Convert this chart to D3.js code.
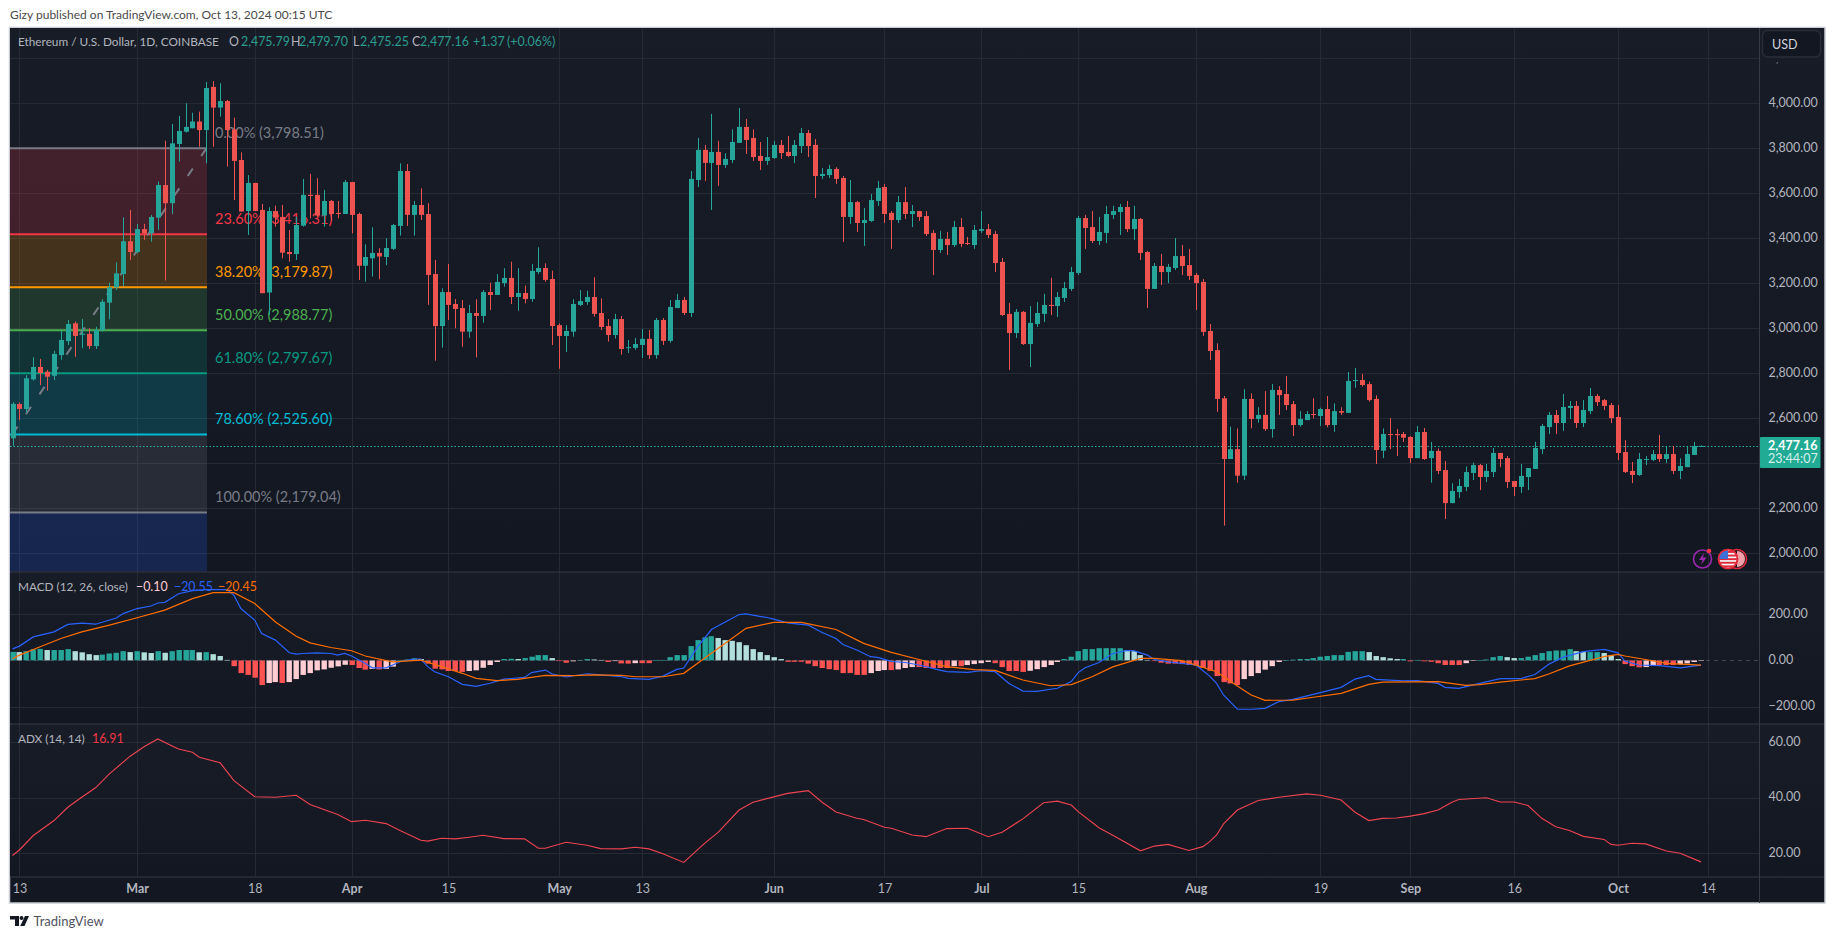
<!DOCTYPE html>
<html>
<head>
<meta charset="utf-8">
<script src="https://cdn.jsdelivr.net/npm/d3@7"></script>
<style>
  body { margin: 0; background: #fff; }
  svg { display: block; font-family: Lato, "Open Sans", sans-serif; }
  .domain { display: none; }
  .axis text { fill: #b2b5be; font-size: 12.5px; font-family: Lato, sans-serif; }
</style>
</head>
<body>
<div id="chart"></div>
<script>
// daily candles, index 0 = Feb 12 2024, last = Oct 13 2024
const opens = [
  2511,2663,2641,2773,2828,2807,2789,2881,2943,3022,
  2971,2975,2921,2992,3114,3182,3241,3387,3339,3441,
  3422,3492,3637,3556,3819,3874,3889,3919,3881,4073,
  3981,4010,3884,3748,3521,3646,3526,3159,3521,3495,
  3339,3330,3456,3593,3593,3501,3566,3513,3508,3650,
  3508,3278,3311,3335,3317,3353,3455,3699,3504,3548,
  3508,3241,3010,3161,3108,3090,2985,3068,3055,3161,
  3148,3201,3224,3139,3157,3130,3250,3268,3219,3014,
  2966,2985,3104,3117,3139,3068,3010,2970,3041,2914,
  2913,2926,2953,2881,3037,2944,3090,3126,3068,3659,
  3793,3735,3784,3726,3748,3824,3895,3846,3766,3744,
  3757,3815,3784,3766,3810,3868,3815,3677,3681,3708,
  3668,3495,3561,3468,3477,3566,3628,3513,3481,3561,
  3508,3521,3499,3424,3348,3397,3370,3450,3379,3370,
  3433,3441,3419,3295,3064,2979,3073,2930,3019,3064,
  3104,3099,3135,3175,3246,3490,3450,3388,3424,3504,
  3517,3539,3441,3486,3339,3175,3277,3250,3268,3321,
  3281,3237,3206,2988,2903,2689,2419,2463,2345,2686,
  2597,2615,2552,2726,2708,2663,2570,2592,2619,2610,
  2641,2570,2632,2624,2766,2770,2752,2686,2456,2530,
  2530,2530,2517,2423,2539,2423,2455,2370,2223,2272,
  2295,2357,2392,2339,2361,2446,2423,2321,2295,2339,
  2375,2463,2561,2615,2579,2646,2655,2579,2632,2699,
  2681,2659,2606,2450,2366,2348,2415,2415,2441,2419,
  2441,2366,2383,2437,2475.79
];
const highs = [
  2672,2670,2792,2871,2864,2815,2900,2992,3037,3030,
  3041,3000,3007,3129,3203,3293,3493,3526,3464,3464,
  3504,3652,3834,3908,3944,4000,3958,3963,4095,4099,
  4089,4015,3936,3782,3681,3646,3553,3538,3545,3548,
  3437,3496,3664,3686,3667,3615,3570,3566,3659,3650,
  3514,3373,3449,3356,3400,3464,3733,3730,3566,3622,
  3556,3304,3178,3286,3130,3126,3104,3129,3170,3203,
  3241,3267,3296,3267,3190,3286,3360,3289,3256,3022,
  3014,3129,3170,3167,3227,3133,3041,3064,3055,2948,
  2957,2997,2993,3046,3046,3126,3153,3139,3699,3846,
  3815,3953,3833,3778,3884,3979,3930,3884,3828,3850,
  3833,3837,3855,3837,3890,3881,3841,3713,3726,3716,
  3677,3659,3566,3535,3597,3655,3641,3521,3588,3628,
  3548,3521,3521,3437,3433,3428,3477,3490,3406,3459,
  3521,3464,3433,3313,3113,3086,3077,3099,3117,3153,
  3224,3161,3206,3273,3499,3504,3521,3495,3544,3544,
  3553,3566,3544,3490,3344,3290,3330,3286,3401,3370,
  3353,3246,3219,3019,2933,2699,2563,2555,2729,2711,
  2649,2721,2752,2743,2788,2677,2632,2632,2689,2647,
  2699,2666,2649,2806,2824,2797,2763,2702,2555,2601,
  2552,2539,2521,2566,2557,2495,2466,2410,2311,2330,
  2386,2403,2397,2397,2468,2446,2432,2321,2397,2379,
  2496,2575,2628,2637,2708,2677,2677,2681,2735,2708,
  2686,2668,2659,2503,2406,2446,2432,2459,2526,2474,
  2477,2422,2472,2495,2479.70
];
const lows = [
  2478,2592,2625,2767,2748,2723,2770,2860,2926,2874,
  2911,2908,2908,2985,3040,3170,3188,3304,3333,3393,
  3385,3437,3212,3507,3741,3870,3889,3807,3733,3807,
  3941,3719,3570,3519,3415,3521,3156,3059,3452,3311,
  3296,3304,3452,3489,3496,3452,3478,3489,3508,3422,
  3215,3207,3230,3218,3281,3348,3412,3455,3412,3481,
  3104,2856,2914,3037,3000,2918,2958,2871,3025,3081,
  3148,3185,3108,3078,3111,3118,3241,3207,2926,2820,
  2895,2963,3099,3104,3052,2993,2941,2954,2883,2890,
  2905,2868,2864,2865,2926,2936,3090,3059,3050,3628,
  3655,3526,3633,3713,3735,3824,3775,3744,3704,3726,
  3753,3753,3761,3735,3779,3761,3579,3664,3668,3642,
  3384,3464,3428,3366,3473,3544,3468,3353,3468,3486,
  3450,3477,3410,3237,3335,3326,3361,3361,3370,3353,
  3424,3401,3250,3055,2815,2957,2926,2828,3006,3028,
  3059,3050,3117,3166,3237,3353,3379,3370,3379,3486,
  3415,3428,3393,3304,3090,3175,3193,3201,3259,3237,
  3215,3081,2966,2859,2629,2123,2419,2314,2326,2555,
  2581,2544,2514,2615,2637,2521,2563,2592,2600,2566,
  2560,2540,2615,2624,2736,2741,2674,2397,2423,2463,
  2432,2495,2401,2423,2415,2314,2352,2152,2223,2246,
  2277,2326,2281,2317,2339,2383,2290,2255,2268,2281,
  2375,2441,2530,2530,2544,2597,2557,2561,2619,2655,
  2637,2579,2415,2357,2312,2344,2392,2410,2406,2401,
  2352,2330,2383,2437,2475.25
];
const closes = [
  2664,2642,2778,2828,2801,2785,2886,2948,3019,2966,
  2976,2921,2992,3118,3182,3244,3387,3339,3441,3422,
  3495,3637,3556,3822,3877,3895,3919,3881,4068,3981,
  4010,3881,3744,3519,3646,3521,3156,3521,3492,3336,
  3330,3459,3593,3588,3501,3566,3508,3508,3650,3504,
  3278,3317,3335,3319,3357,3459,3699,3504,3548,3504,
  3237,3010,3161,3104,3086,2985,3068,3055,3161,3148,
  3206,3224,3139,3157,3130,3255,3268,3215,3010,2966,
  2988,3108,3121,3139,3064,3006,2970,3041,2908,2916,
  2930,2953,2881,3037,2944,3095,3126,3068,3664,3793,
  3735,3784,3726,3753,3828,3895,3837,3761,3744,3761,
  3815,3779,3766,3815,3868,3810,3677,3686,3708,3664,
  3495,3561,3468,3481,3570,3624,3508,3481,3561,3508,
  3521,3495,3419,3348,3397,3370,3450,3375,3375,3437,
  3441,3415,3290,3059,2979,3073,2930,3024,3068,3104,
  3099,3139,3179,3250,3490,3446,3388,3428,3508,3521,
  3539,3441,3486,3335,3175,3277,3250,3273,3321,3277,
  3233,3201,2984,2899,2686,2419,2463,2345,2686,2597,
  2615,2552,2726,2703,2659,2570,2597,2619,2615,2641,
  2570,2632,2625,2766,2770,2748,2681,2459,2530,2526,
  2525,2514,2423,2539,2419,2455,2366,2223,2277,2299,
  2361,2392,2339,2366,2446,2419,2317,2295,2344,2379,
  2468,2566,2615,2579,2650,2655,2579,2637,2699,2672,
  2655,2601,2446,2361,2348,2419,2419,2441,2419,2441,
  2366,2388,2441,2477,2477.16
];

const histValues = [
  37,36,40,48,50,45,45,45,49,40,
  35,27,23,25,30,33,40,36,40,35,
  32,40,33,40,45,45,45,35,36,27,
  19,2,-25,-55,-63,-75,-107,-98,-94,-98,
  -94,-81,-63,-55,-43,-39,-32,-26,-19,-20,
  -33,-40,-37,-39,-37,-27,2,4,9,6,
  -14,-36,-39,-46,-46,-50,-46,-43,-32,-20,
  -7,6,7,6,10,16,23,23,10,-3,
  -10,-4,2,6,4,2,-7,-3,-13,-14,
  -12,-12,-12,2,2,14,23,23,62,88,
  100,105,97,88,85,79,66,49,36,23,
  14,6,-6,-6,-6,-14,-25,-33,-38,-42,
  -55,-55,-63,-63,-55,-46,-42,-42,-39,-33,
  -29,-29,-33,-33,-33,-33,-25,-25,-20,-16,
  -12,-7,-12,-29,-46,-46,-50,-45,-38,-29,
  -20,-7,6,16,40,49,49,53,53,53,
  53,45,40,23,2,-3,-10,-14,-14,-16,
  -20,-23,-33,-45,-68,-94,-100,-107,-81,-68,
  -55,-40,-25,-7,1,3,6,6,10,16,
  19,23,23,37,40,40,36,19,14,9,
  6,6,-4,1,-4,-6,-12,-20,-20,-20,
  -12,-1,1,4,14,19,14,10,10,16,
  23,32,40,43,43,49,40,36,36,36,
  32,23,6,-16,-25,-30,-29,-20,-20,-20,
  -20,-17,-13,-7,-0.1
];

const macdDays = [0,1,3,6,8,10,12,15,16,18,20,21,22,24,26,28,31,32,33,35,36,38,40,41,42,44,46,47,48,49,51,52,54,56,58,59,60,61,63,65,67,69,71,74,75,77,78,80,83,85,88,89,92,94,96,97,99,101,103,105,106,109,110,112,115,117,119,120,122,124,125,127,129,131,134,135,138,140,142,144,146,148,151,153,154,155,157,159,161,162,164,165,167,171,173,174,175,177,179,181,183,185,189,192,194,196,197,201,203,206,207,209,212,215,218,220,222,224,227,230,232,233,235,238,241,244];
const macdValues = [50,62,102,124,156,162,157,184,203,225,236,249,252,289,303,307,307,282,225,175,117,88,33,27,30,33,30,23,30,19,-13,-32,-32,-6,6,6,-27,-49,-71,-104,-113,-99,-81,-74,-53,-42,-59,-72,-58,-63,-71,-78,-82,-68,-39,-33,59,134,167,199,202,186,179,163,153,121,95,69,45,16,13,-4,-9,-20,-42,-49,-52,-45,-49,-100,-133,-134,-121,-92,-53,-32,-9,30,42,42,23,4,-6,-20,-68,-100,-150,-212,-212,-208,-179,-169,-140,-117,-81,-66,-82,-89,-88,-100,-117,-121,-100,-79,-79,-61,-17,13,38,48,33,-3,-20,-23,-32,-20.55];
const signalDays = [0,1,4,7,10,14,18,22,26,29,32,35,38,41,43,46,49,51,54,55,59,62,65,67,70,73,77,81,84,88,90,94,97,100,103,106,110,114,119,123,127,131,135,139,142,146,150,153,156,159,163,165,169,174,177,179,181,185,188,192,196,198,206,210,212,215,220,222,225,230,232,233,236,239,244];
const signalValues = [7,23,59,95,124,153,185,218,268,294,294,247,167,105,76,56,42,19,-1,-6,1,-27,-56,-78,-88,-82,-65,-66,-63,-65,-71,-71,-56,9,74,139,165,165,134,74,35,4,-27,-40,-43,-85,-110,-105,-71,-28,9,9,-1,-49,-111,-150,-173,-172,-160,-143,-104,-94,-92,-108,-105,-94,-79,-59,-24,16,26,19,4,-13,-20.45];
const adxDays = [0,1,3,4,6,8,10,12,14,17,19,21,23,24,26,27,30,32,35,38,41,43,47,49,51,54,56,59,60,62,64,66,68,71,74,76,77,80,83,85,88,90,92,94,97,100,102,105,107,112,115,117,119,122,123,126,127,130,132,135,138,141,143,146,149,151,153,154,157,159,163,165,167,170,172,173,174,175,177,180,183,187,189,192,194,196,198,200,202,204,206,208,209,213,215,217,219,221,223,225,227,230,231,232,234,236,239,241,244];
const adxValues = [19.2,21.2,26.4,28.2,31.8,36.6,40.2,43.6,48.6,55,58.4,61.2,58.8,57.6,56.4,54.6,52.6,46.2,40.4,40.2,40.9,37.6,34,31.4,31.9,30.7,28.2,24.7,24.4,25.4,25.2,25.8,26.5,25.3,25.2,21.8,21.8,24,22.9,21.7,21.6,22.2,21.6,19.8,16.7,23.6,27.6,35.6,38.4,41.6,42.6,38.4,34.9,32.6,32.2,29.4,29,26.6,26,28.9,29,26,27.6,32.4,38.2,38.8,37.4,35,29.2,26.5,20.9,22.6,23.2,21,22.4,24.2,26.6,30.6,35.6,39,40.2,41.4,40.9,39.2,34.8,31.8,32.6,32.7,33.4,34.3,35.6,38.4,39.4,40,38.5,38.5,37.2,32.6,29.6,28.2,26.1,25,23.2,22.9,23.6,23.4,20.8,20,16.91];

// bottom axis
const dateTickDays = [1,18,35,49,63,79,91,110,126,140,154,171,189,202,217,232,245];
const dateTickLabels = ["13","Mar","18","Apr","15","May","13","Jun","17","Jul","15","Aug","19","Sep","16","Oct","14"];
const monthLabels = ["Mar","Apr","May","Jun","Jul","Aug","Sep","Oct"];

const priceTicks = [2000,2200,2400,2600,2800,3000,3200,3400,3600,3800,4000,4200];
const hiddenPriceLabels = [2400]; // under the last price tag
const macdTicks = [-200,0,200];
const adxTicks = [20,40,60];

// fibonacci retracement
const fibLevels = [3798.51,3416.31,3179.87,2988.77,2797.67,2525.60,2179.04];
const fibLabels = ["0.00%","23.60%","38.20%","50.00%","61.80%","78.60%","100.00%"];
const fibColors = ["#787b86","#f23645","#ff9800","#4caf50","#089981","#00bcd4","#787b86"];
const fibFills = ["#f23645","#ff9800","#4caf50","#089981","#00bcd4","#787b86","#2962ff"];

const lastPrice = 2477.16;

const W = 1835, H = 939;
const left = 10, plotRight = 1759.5, right = 1824;
const mainTop = 28, mainBottom = 571.5, macdTop = 572.5, macdBottom = 723.5, adxTop = 724.5, adxBottom = 876.5, chartBottom = 903;

const x = d3.scaleLinear().domain([0, 244]).range([12.5, 1701]);
const yPrice = d3.scaleLinear().domain([2000, 4000]).range([553.3, 103.3]);
const yMacd = d3.scaleLinear().domain([-200, 200]).range([706.5, 614.3]);
const yAdx = d3.scaleLinear().domain([20, 60]).range([853.3, 742.3]);

const svg = d3.select("#chart").append("svg").attr("width", W).attr("height", H);
const defs = svg.append("defs");
const grad = defs.append("linearGradient").attr("id", "paneBg").attr("x1", 0).attr("x2", 0).attr("y1", 0).attr("y2", 1);
grad.append("stop").attr("offset", "0%").attr("stop-color", "#181c27");
grad.append("stop").attr("offset", "100%").attr("stop-color", "#131722");
defs.append("clipPath").attr("id", "plotClip").append("rect")
  .attr("x", left).attr("y", mainTop).attr("width", plotRight - left).attr("height", mainBottom - mainTop);
defs.append("clipPath").attr("id", "macdClip").append("rect")
  .attr("x", left).attr("y", macdTop).attr("width", plotRight - left).attr("height", macdBottom - macdTop);
defs.append("clipPath").attr("id", "flagClip").append("circle").attr("cx", 1728).attr("cy", 559).attr("r", 9);

// header and footer on the white page
svg.append("text").text("Gizy published on TradingView.com, Oct 13, 2024 00:15 UTC")
  .attr("x", 10).attr("y", 19).attr("fill", "#4a4a4a").style("font-size", "12px");

const logo = svg.append("g").attr("fill", "#131722");
logo.append("path").attr("d", "M10 916h9v10h-4v-6.5h-5z");
logo.append("circle").attr("cx", 21.5).attr("cy", 918).attr("r", 2);
logo.append("path").attr("d", "M25 916h4l-4.5 10h-4.3z");
svg.append("text").text("TradingView").attr("x", 33.5).attr("y", 926).attr("fill", "#50535e").style("font-size", "13px");

// panes
svg.append("rect").attr("x", 9.5).attr("y", 27.5).attr("width", right - 9.5 + 1).attr("height", chartBottom - 27.5)
  .attr("fill", "#131722").attr("stroke", "#c9ccd4").attr("stroke-width", 1.5);
[[mainTop, mainBottom], [macdTop, macdBottom], [adxTop, adxBottom]].forEach(p => {
  svg.append("rect").attr("x", left).attr("y", p[0]).attr("width", right - left).attr("height", p[1] - p[0]).attr("fill", "url(#paneBg)");
});

// grid
const gridColor = "#262a35";
const grid = svg.append("g").attr("stroke", gridColor).attr("stroke-width", 1);
grid.selectAll(".v").data(dateTickDays).enter().append("line")
  .attr("x1", d => Math.round(x(d)) + 0.5).attr("x2", d => Math.round(x(d)) + 0.5)
  .attr("y1", mainTop).attr("y2", adxBottom);
function hGrid(ticks, scale) {
  grid.append("g").selectAll("line").data(ticks).enter().append("line")
    .attr("x1", left).attr("x2", plotRight)
    .attr("y1", d => Math.round(scale(d)) + 0.5).attr("y2", d => Math.round(scale(d)) + 0.5);
}
hGrid(priceTicks, yPrice);
hGrid(macdTicks.filter(d => d !== 0), yMacd);
hGrid(adxTicks, yAdx);

// separators
const sep = svg.append("g").attr("stroke", "#363a45");
[mainBottom, macdBottom, adxBottom].forEach(y => {
  sep.append("line").attr("x1", left).attr("x2", right).attr("y1", y + 0.5).attr("y2", y + 0.5);
});
sep.append("line").attr("x1", plotRight).attr("x2", plotRight).attr("y1", mainTop).attr("y2", chartBottom);

// fibonacci zones
const fibRight = 207;
const fib = svg.append("g").attr("clip-path", "url(#plotClip)");
fibLevels.forEach((lvl, i) => {
  const y0 = yPrice(lvl);
  const y1 = i < fibLevels.length - 1 ? yPrice(fibLevels[i + 1]) : mainBottom;
  fib.append("rect").attr("x", left).attr("y", y0).attr("width", fibRight - left).attr("height", y1 - y0)
    .attr("fill", fibFills[i]).attr("opacity", 0.2);
});
fib.selectAll(".fibline").data(fibLevels).enter().append("line")
  .attr("x1", left).attr("x2", fibRight)
  .attr("y1", d => yPrice(d) - 0.5).attr("y2", d => yPrice(d) - 0.5)
  .attr("stroke", (d, i) => fibColors[i]).attr("stroke-width", 2);
fib.selectAll(".fibtext").data(fibLevels).enter().append("text")
  .text((d, i) => fibLabels[i] + " (" + d3.format(",.2f")(d) + ")")
  .attr("x", 215).attr("y", d => yPrice(d) - 11)
  .attr("fill", (d, i) => fibColors[i]).style("font-size", "14.5px");
fib.append("line")
  .attr("x1", x(0)).attr("y1", yPrice(2530)).attr("x2", x(28)).attr("y2", yPrice(3798.51))
  .attr("stroke", "#787b86").attr("stroke-width", 2).attr("stroke-dasharray", "9 15");

// last price line
svg.append("line").attr("x1", left).attr("x2", plotRight)
  .attr("y1", Math.round(yPrice(lastPrice)) + 0.5).attr("y2", Math.round(yPrice(lastPrice)) + 0.5)
  .attr("stroke", "#2bb5a6").attr("stroke-dasharray", "1.5 2");

// candles
const up = "#26a69a", down = "#ef5350";
const candleData = d3.range(opens.length);
const candles = svg.append("g").attr("clip-path", "url(#plotClip)");
candles.selectAll(".wick").data(candleData).enter().append("line")
  .attr("x1", i => Math.round(x(i)) + 0.5).attr("x2", i => Math.round(x(i)) + 0.5)
  .attr("y1", i => yPrice(highs[i])).attr("y2", i => yPrice(lows[i]))
  .attr("stroke", i => closes[i] >= opens[i] ? up : down);
candles.selectAll(".body").data(candleData).enter().append("rect")
  .attr("x", i => Math.round(x(i)) - 2)
  .attr("width", 5)
  .attr("y", i => yPrice(Math.max(opens[i], closes[i])))
  .attr("height", i => Math.max(1, Math.abs(yPrice(opens[i]) - yPrice(closes[i]))))
  .attr("fill", i => closes[i] >= opens[i] ? up : down);

// MACD histogram + lines
function histColor(d, i) {
  const prev = i > 0 ? histValues[i - 1] : d;
  if (d >= 0) return d >= prev ? "#26a69a" : "#b2dfdb";
  return d <= prev ? "#ff5252" : "#ffcdd2";
}
const macdG = svg.append("g").attr("clip-path", "url(#macdClip)");
macdG.selectAll("rect").data(histValues).enter().append("rect")
  .attr("x", (d, i) => Math.round(x(i)) - 2.5)
  .attr("width", 5.4)
  .attr("y", d => Math.min(yMacd(d), yMacd(0)))
  .attr("height", d => Math.max(0.6, Math.abs(yMacd(d) - yMacd(0))))
  .attr("fill", histColor);
macdG.append("line").attr("x1", left).attr("x2", plotRight).attr("y1", yMacd(0)).attr("y2", yMacd(0))
  .attr("stroke", "#787b86").attr("stroke-opacity", 0.5).attr("stroke-dasharray", "4 4");

const lineFrom = (days, vals, scale) => d3.line().x(i => x(days[i])).y(i => scale(vals[i]))(d3.range(days.length));
macdG.append("path").attr("d", lineFrom(macdDays, macdValues, yMacd)).attr("fill", "none").attr("stroke", "#2962ff").attr("stroke-width", 1.2);
macdG.append("path").attr("d", lineFrom(signalDays, signalValues, yMacd)).attr("fill", "none").attr("stroke", "#ff6d00").attr("stroke-width", 1.2);

// ADX
svg.append("path").attr("d", lineFrom(adxDays, adxValues, yAdx)).attr("fill", "none").attr("stroke", "#ee4450").attr("stroke-width", 1.1);

// axes
function styleAxis(g) {
  g.attr("class", "axis");
  g.selectAll(".tick line").remove();
}
function styleValueAxis(g) {
  styleAxis(g);
  g.selectAll("text").attr("dy", "0.25em");
}
svg.append("g").attr("transform", `translate(${plotRight},0)`)
  .call(d3.axisRight(yPrice).tickValues(priceTicks.filter(d => !hiddenPriceLabels.includes(d))).tickFormat(d3.format(",.2f")).tickSize(0).tickPadding(9))
  .call(styleValueAxis);
svg.append("g").attr("transform", `translate(${plotRight},0)`)
  .call(d3.axisRight(yMacd).tickValues(macdTicks).tickFormat(d3.format(".2f")).tickSize(0).tickPadding(9))
  .call(styleValueAxis);
svg.append("g").attr("transform", `translate(${plotRight},0)`)
  .call(d3.axisRight(yAdx).tickValues(adxTicks).tickFormat(d3.format(".2f")).tickSize(0).tickPadding(9))
  .call(styleValueAxis);
const dateAxis = svg.append("g").attr("transform", `translate(0,${adxBottom})`)
  .call(d3.axisBottom(x).tickValues(dateTickDays).tickFormat((d, i) => dateTickLabels[i]).tickSize(0).tickPadding(8))
  .call(styleAxis);
dateAxis.selectAll("text").style("font-weight", (d, i) => monthLabels.includes(dateTickLabels[i]) ? 700 : 400);

// USD button covers the 4,200 label, leaving only its comma tail
svg.append("rect").attr("x", plotRight + 0.5).attr("y", mainTop).attr("width", right - plotRight - 0.5).attr("height", 34).attr("fill", "#181c27");
svg.append("rect").attr("x", 1762.5).attr("y", 30.5).attr("width", 58).attr("height", 26.5).attr("rx", 5)
  .attr("fill", "#131722").attr("stroke", "#2a2e39").attr("stroke-width", 1.3);
svg.append("text").text("USD").attr("x", 1772).attr("y", 49).attr("fill", "#d1d4dc").style("font-size", "12.5px");

// price tag
const tagY = 437;
svg.append("rect").attr("x", plotRight + 0.5).attr("y", tagY).attr("width", 60.5).attr("height", 31).attr("rx", 1).attr("fill", "#22ab94");
svg.append("text").text(d3.format(",.2f")(lastPrice)).attr("x", 1768).attr("y", tagY + 13)
  .attr("fill", "#fff").style("font-size", "12.5px").style("font-weight", 700);
svg.append("text").text("23:44:07").attr("x", 1768).attr("y", tagY + 26)
  .attr("fill", "#d6f0ec").style("font-size", "12.5px");

// legends
function legend(parts, y) {
  parts.forEach(p => {
    svg.append("text").text(p[0]).attr("x", p[1]).attr("y", y).attr("fill", p[2]).style("font-size", p[3] || "12.4px");
  });
}
const legendTeal = "#2a9d8f", legendGrey = "#b2b5be";
legend([
  ["Ethereum / U.S. Dollar, 1D, COINBASE", 18, legendGrey, "11.8px"],
  ["O", 229, legendGrey], ["2,475.79", 241, legendTeal],
  ["H", 291, legendGrey], ["2,479.70", 299, legendTeal],
  ["L", 353, legendGrey], ["2,475.25", 360, legendTeal],
  ["C", 412, legendGrey], ["2,477.16", 420, legendTeal],
  ["+1.37", 473, legendTeal], ["(+0.06%)", 507, legendTeal]
], 45.5);
legend([
  ["MACD (12, 26, close)", 18, legendGrey, "11.8px"],
  ["\u22120.10", 136, "#ffcdd2"], ["\u221220.55", 174, "#2962ff"], ["\u221220.45", 218, "#ff6d00"]
], 591);
legend([["ADX (14, 14)", 18, legendGrey, "11.8px"], ["16.91", 92, "#f23645"]], 743);

// status icons
const icons = svg.append("g");
icons.append("circle").attr("cx", 1702.5).attr("cy", 559).attr("r", 9).attr("fill", "none").attr("stroke", "#9c27b0").attr("stroke-width", 1.6);
icons.append("path").attr("d", "M1704 553l-5 7h3.5l-1.5 5 5.5-7.5h-3.5z").attr("fill", "#9c27b0");
icons.append("circle").attr("cx", 1709).attr("cy", 551).attr("r", 2.3).attr("fill", "#f23645");
icons.append("circle").attr("cx", 1737).attr("cy", 559).attr("r", 9.5).attr("fill", "#131722").attr("stroke", "#e0293a").attr("stroke-width", 1.6);
icons.append("path").attr("d", "M1737 551a8 8 0 0 1 0 16z").attr("fill", "#f0a0a6");
icons.append("circle").attr("cx", 1728).attr("cy", 559).attr("r", 9.5).attr("fill", "#f4f4f4").attr("stroke", "#e0293a").attr("stroke-width", 1.6);
const flag = icons.append("g").attr("clip-path", "url(#flagClip)");
d3.range(5).forEach(k => {
  flag.append("rect").attr("x", 1718).attr("y", 551 + k * 3.6).attr("width", 20).attr("height", 1.9).attr("fill", "#e0293a");
});
flag.append("rect").attr("x", 1718).attr("y", 549).attr("width", 10).attr("height", 10).attr("fill", "#3d6fd8");
icons.append("circle").attr("cx", 1728).attr("cy", 559).attr("r", 9.5).attr("fill", "none").attr("stroke", "#e0293a").attr("stroke-width", 1.6);
</script>
</body>
</html>
